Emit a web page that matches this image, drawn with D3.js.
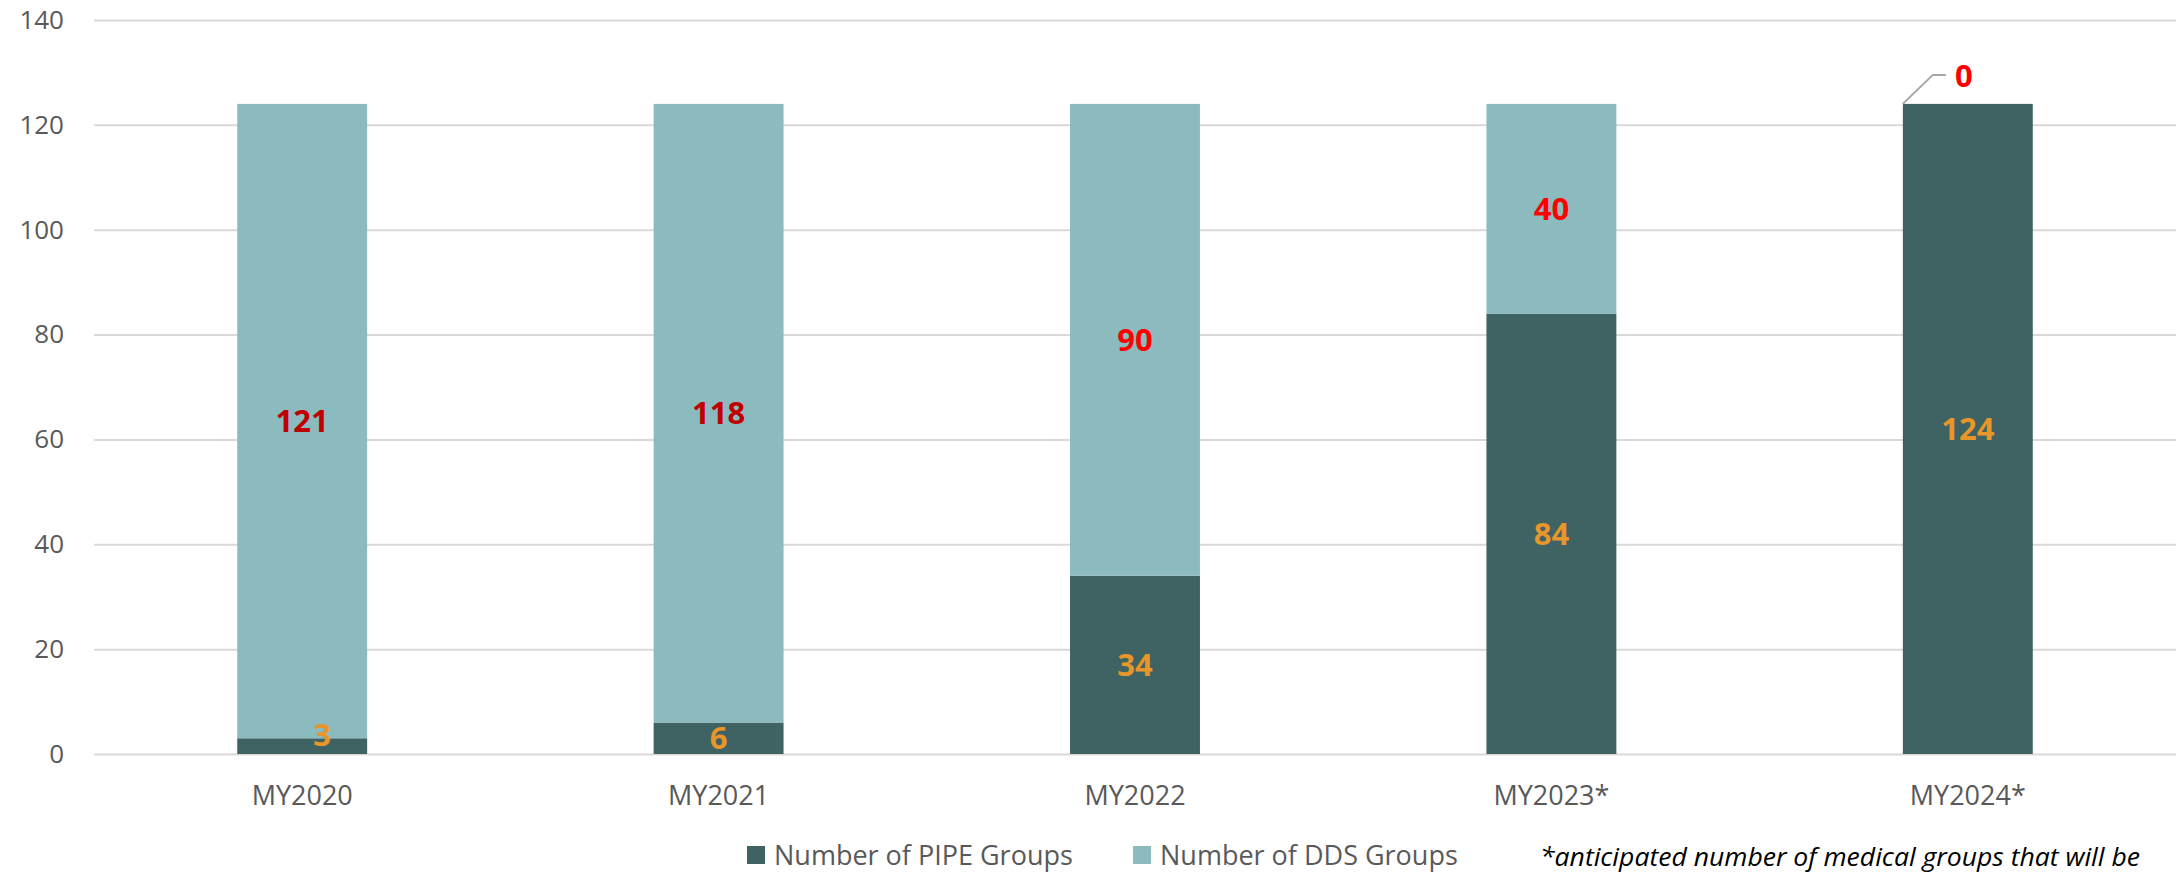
<!DOCTYPE html>
<html>
<head>
<meta charset="utf-8">
<script src="https://cdn.jsdelivr.net/npm/d3@7"></script>
<style>
  body { margin: 0; background: #fff; }
  svg { display: block; font-family: "Open Sans", sans-serif; }
</style>
</head>
<body>
<svg width="2176" height="874"></svg>
<script>
var categories = ['MY2020', 'MY2021', 'MY2022', 'MY2023*', 'MY2024*'];
var pipeGroups = [3, 6, 34, 84, 124];
var ddsGroups = [121, 118, 90, 40, 0];
var yTicks = [0, 20, 40, 60, 80, 100, 120, 140];
var seriesNames = ['Number of PIPE Groups', 'Number of DDS Groups'];
var footnote = '*anticipated number of medical groups that will be';

var svg = d3.select('svg');
var W = +svg.attr('width');

var rows = categories.map(function (c, i) {
    return { cat: c, pipe: pipeGroups[i], dds: ddsGroups[i] };
});

var xScale = d3.scaleBand()
    .domain(categories)
    .range([94, W])
    .paddingInner(0.688)
    .paddingOuter(0.344);

var yScale = d3.scaleLinear()
    .domain([0, 140])
    .range([754, 20]);

var colors = { pipe: '#3f6262', dds: '#8cbbbf' };

// gridlines + y labels
var yAxis = svg.append('g')
    .attr('transform', 'translate(94,0)')
    .call(d3.axisLeft(yScale).tickValues(yTicks).tickSize(-(W - 94)).tickPadding(30));
yAxis.select('.domain').remove();
yAxis.selectAll('line').attr('stroke', '#d9d9d9').attr('stroke-width', 2);
yAxis.selectAll('text')
    .attr('fill', '#595959')
    .attr('font-size', 26)
    .attr('font-family', '"Open Sans", sans-serif');

// x labels
var xAxis = svg.append('g')
    .attr('transform', 'translate(0,754)')
    .call(d3.axisBottom(xScale).tickSize(0).tickPadding(32));
xAxis.select('.domain').remove();
xAxis.selectAll('text')
    .attr('fill', '#595959')
    .attr('font-size', 27)
    .attr('font-family', '"Open Sans", sans-serif');

var stacked = d3.stack().keys(['pipe', 'dds'])(rows);

svg.append('g').selectAll('g')
    .data(stacked)
    .join('g')
    .attr('fill', function (s) { return colors[s.key]; })
    .selectAll('rect')
    .data(function (s) { return s; })
    .join('rect')
    .attr('x', function (d) { return xScale(d.data.cat); })
    .attr('width', xScale.bandwidth())
    .attr('y', function (d) { return yScale(d[1]); })
    .attr('height', function (d) { return yScale(d[0]) - yScale(d[1]); });

// data labels
var labels = svg.append('g')
    .attr('font-weight', 700)
    .attr('font-size', 31)
    .attr('text-anchor', 'middle');

stacked[0].forEach(function (d, i) {
    var v = d[1] - d[0];
    var cx = xScale(d.data.cat) + xScale.bandwidth() / 2;
    var cy = (yScale(d[0]) + yScale(d[1])) / 2;
    var small = yScale(d[0]) - yScale(d[1]) < 25;
    labels.append('text')
        .attr('x', cx + (small ? 20 : 0))
        .attr('y', cy + (small ? -11 : 0))
        .attr('dy', '0.36em')
        .attr('fill', '#e8962a')
        .text(v);
});

stacked[1].forEach(function (d, i) {
    var v = d[1] - d[0];
    var bx = xScale(d.data.cat);
    var cx = bx + xScale.bandwidth() / 2;
    var cy = (yScale(d[0]) + yScale(d[1])) / 2;
    var fill = i < 2 ? '#c00000' : '#ff0000';
    if (v === 0) {
        var top = yScale(d[1]);
        svg.append('path')
            .attr('d', 'M' + bx + ',' + top + 'L' + (bx + 30) + ',' + (top - 29) + 'H' + (bx + 43))
            .attr('fill', 'none')
            .attr('stroke', '#a6a6a6')
            .attr('stroke-width', 2);
        labels.append('text')
            .attr('x', bx + 61)
            .attr('y', top - 28)
            .attr('dy', '0.36em')
            .attr('fill', fill)
            .text(v);
    } else {
        labels.append('text')
            .attr('x', cx)
            .attr('y', cy)
            .attr('dy', '0.36em')
            .attr('fill', fill)
            .text(v);
    }
});

// legend
var legend = svg.append('g').attr('font-size', 27).attr('fill', '#595959');
var legendX = [747, 1133];
['pipe', 'dds'].forEach(function (k, i) {
    legend.append('rect')
        .attr('x', legendX[i]).attr('y', 846)
        .attr('width', 18).attr('height', 18)
        .attr('fill', colors[k]);
    legend.append('text')
        .attr('x', legendX[i] + 27).attr('y', 865)
        .text(seriesNames[i]);
});

svg.append('text')
    .attr('x', 1540).attr('y', 866)
    .attr('font-size', 26)
    .attr('font-style', 'italic')
    .attr('fill', '#000')
    .attr('textLength', 600)
    .attr('lengthAdjust', 'spacingAndGlyphs')
    .text(footnote);
</script>
</body>
</html>
